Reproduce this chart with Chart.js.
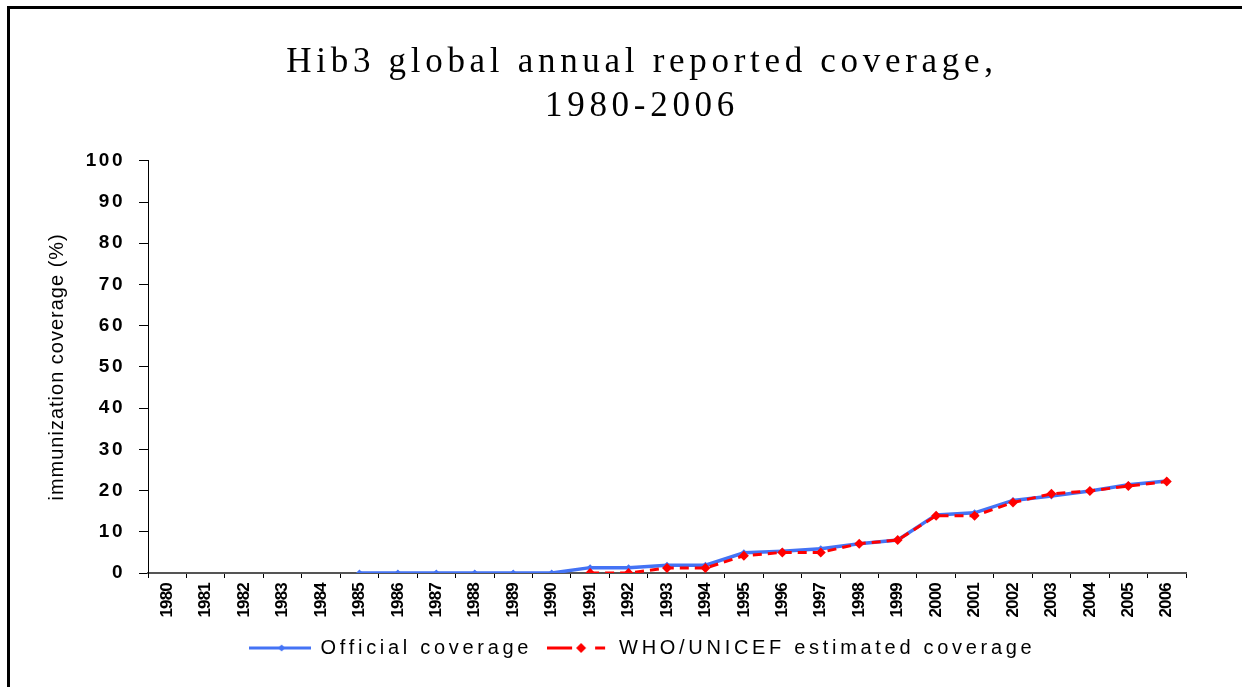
<!DOCTYPE html>
<html>
<head>
<meta charset="utf-8">
<script src="https://cdn.jsdelivr.net/npm/chart.js@4.4.1/dist/chart.umd.min.js"></script>
<style>
  html, body { margin: 0; padding: 0; background: #fff; }
  #wrap { position: relative; width: 1242px; height: 687px; overflow: hidden; }
  #frame { position: absolute; left: 7px; top: 6px; right: -10px; bottom: -10px;
           border-top: 3px solid #000; border-left: 3px solid #000; pointer-events: none; }
  canvas { position: absolute; left: 0; top: 0; }
</style>
</head>
<body>
<div id="wrap">
  <canvas id="hibChart" width="1242" height="687"></canvas>
  <div id="frame"></div>
</div>
<script>
// datos
const years = ['1980', '1981', '1982', '1983', '1984', '1985', '1986', '1987', '1988',
  '1989', '1990', '1991', '1992', '1993', '1994', '1995', '1996', '1997', '1998', '1999',
  '2000', '2001', '2002', '2003', '2004', '2005', '2006'];
const officialCoverage = [null, null, null, null, null, 0, 0, 0, 0, 0, 0,
  1.3, 1.3, 1.9, 1.9, 4.9, 5.3, 5.9, 7.1, 8.0, 14.1, 14.6, 17.6, 18.7, 19.9, 21.4, 22.3];
const whoUnicefCoverage = [null, null, null, null, null, null, null, null, null, null, null,
  0, 0, 1.2, 1.2, 4.2, 5.0, 5.0, 7.1, 8.0, 13.9, 13.9, 17.1, 19.2, 19.9, 21.1, 22.2];
const seriesNames = ['Official coverage', 'WHO/UNICEF estimated coverage'];
const titleLines = ['Hib3 global annual reported coverage,', '1980-2006'];
const yTitle = 'immunization coverage (%)';

const BLUE = '#4473F5';
const RED = '#FF0000';
const SANS = "'Liberation Sans', Arial, sans-serif";

// marcador de leyenda: linea + rombo
function legendMarker(color, dashed, r) {
    const c = document.createElement('canvas');
    c.width = 62; c.height = 14;
    const g = c.getContext('2d');
    g.strokeStyle = color; g.fillStyle = color; g.lineWidth = 3;
    g.beginPath();
    if (dashed) {
        g.moveTo(0, 7); g.lineTo(25, 7);
        g.moveTo(48, 7); g.lineTo(58, 7);
    } else {
        g.moveTo(0, 7); g.lineTo(62, 7);
    }
    g.stroke();
    const cx = dashed ? 34 : 33;
    g.beginPath();
    g.moveTo(cx, 7 - r); g.lineTo(cx + r, 7); g.lineTo(cx, 7 + r); g.lineTo(cx - r, 7);
    g.closePath(); g.fill();
    return c;
}
const markers = [legendMarker(BLUE, false, 3.5), legendMarker(RED, true, 5)];

// espaciado de letras (y desplazamiento) sobre los metodos de dibujo
function withSpacing(obj, name, sp, dx) {
    const orig = obj[name];
    obj[name] = function (...args) {
        const ctx = this.ctx;
        ctx.save();
        ctx.letterSpacing = sp;
        if (dx) ctx.translate(dx, 0);
        const r = orig.apply(this, args);
        ctx.restore();
        return r;
    };
}

const spacingPlugin = {
    id: 'spacing',
    afterInit(chart) {
        withSpacing(chart.titleBlock, 'draw', '4.7px', 49);
        withSpacing(chart.legend, 'fit', '3.7px', 0);
        withSpacing(chart.legend, 'draw', '3.7px', 49);
    },
    beforeDraw(chart) {
        const y = chart.scales.y;
        const x = chart.scales.x;
        if (!y._spaced) {
            withSpacing(y, 'drawLabels', '2.5px', 0);
            withSpacing(y, 'drawTitle', '1px', 0);
            withSpacing(x, 'drawLabels', '-0.8px', 0);
            y._spaced = true;
        }
    }
};

const ctx = document.getElementById('hibChart').getContext('2d');
new Chart(ctx, {
    type: 'line',
    data: {
        labels: years,
        datasets: [{
            label: seriesNames[0],
            data: officialCoverage,
            borderColor: BLUE,
            backgroundColor: BLUE,
            borderWidth: 3.5,
            pointStyle: 'rectRot',
            pointRadius: 3.5,
            pointBorderWidth: 0,
            tension: 0,
            order: 1
        }, {
            label: seriesNames[1],
            data: whoUnicefCoverage,
            borderColor: RED,
            backgroundColor: RED,
            borderWidth: 3,
            borderDash: [9, 6],
            pointStyle: 'rectRot',
            pointRadius: 5,
            pointBorderWidth: 0,
            tension: 0,
            order: 0
        }]
    },
    options: {
        responsive: false,
        animation: false,
        layout: {
            padding: { top: 0, left: 0, right: 56, bottom: 19 }
        },
        scales: {
            x: {
                offset: true,
                grid: { offset: true, drawOnChartArea: false, tickLength: 5, color: '#000' },
                border: { color: '#555', width: 2 },
                ticks: {
                    autoSkip: false,
                    maxRotation: 90,
                    minRotation: 90,
                    padding: 5,
                    color: '#000',
                    font: { family: SANS, size: 17, weight: 'bold' }
                },
                afterFit: (s) => { s.height = 50; }
            },
            y: {
                min: 0,
                max: 100,
                grid: { drawOnChartArea: false, tickLength: 9, color: '#000' },
                border: { color: '#000', width: 1 },
                ticks: {
                    stepSize: 10,
                    padding: 14,
                    color: '#000',
                    font: { family: SANS, size: 19, weight: 'bold' }
                },
                title: {
                    display: true,
                    text: yTitle,
                    color: '#000',
                    padding: { top: 45, bottom: 0 },
                    font: { family: SANS, size: 20 }
                },
                afterFit: (s) => { s.width = 148; }
            }
        },
        plugins: {
            title: {
                display: true,
                text: titleLines,
                color: '#000',
                padding: { top: 41, bottom: 31.6 },
                font: { family: "'Liberation Serif', 'Times New Roman', serif", size: 35, weight: 'normal', lineHeight: 1.26 }
            },
            legend: {
                position: 'bottom',
                labels: {
                    usePointStyle: true,
                    pointStyleWidth: 62,
                    padding: 15,
                    color: '#000',
                    font: { family: SANS, size: 20 },
                    generateLabels: (chart) => chart.data.datasets.map((ds, i) => ({
                        text: ds.label,
                        pointStyle: markers[i],
                        datasetIndex: i,
                        fontColor: '#000',
                        hidden: false,
                        lineWidth: 0,
                        strokeStyle: 'transparent',
                        fillStyle: 'transparent'
                    }))
                }
            },
            tooltip: { enabled: false }
        }
    },
    plugins: [spacingPlugin]
});
</script>
</body>
</html>
